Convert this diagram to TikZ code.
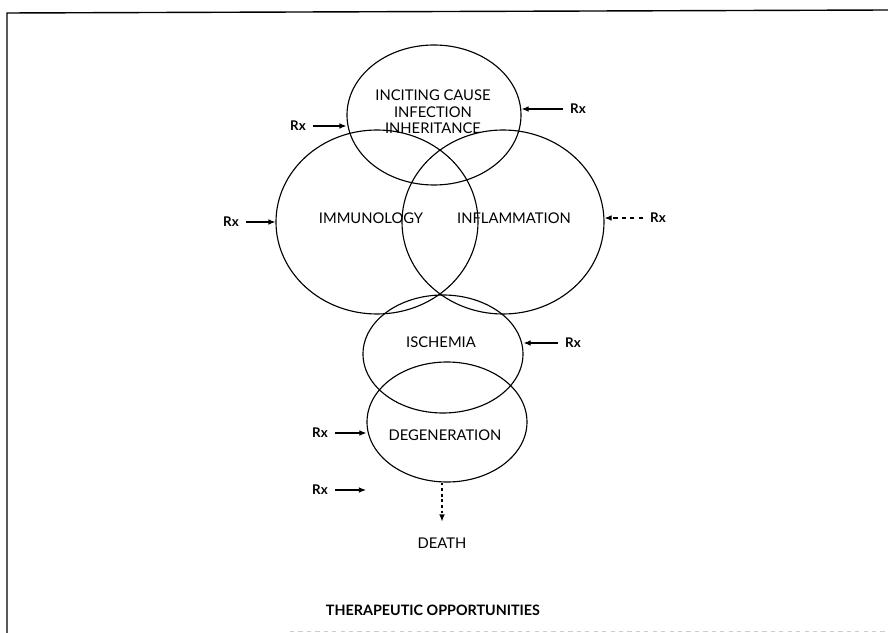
\documentclass[tikz,border=0pt]{standalone}
\usepackage{fontspec}
\setmainfont{Lato}
\usetikzlibrary{arrows.meta, positioning, shapes.geometric}

\begin{document}
\begin{tikzpicture}[
  circ/.style={ellipse, draw, line width=0.8pt, inner sep=0pt},
  lbl/.style={font=\fontsize{10.5}{11.8}\selectfont, align=center},
  rx/.style={font=\bfseries\fontsize{9.5}{11}\selectfont, inner sep=5pt},
  arr/.style={line width=0.8pt, -{Latex[length=5pt, width=4pt]}},
  frame/.style={line width=1pt}
]
  \useasboundingbox (-10.85, 2.875) rectangle (11.35, -12.95);

  % Frame
  \draw[frame] (-10.675, -12.95) -- (-10.675, 2.55) -- (11.35, 2.625);
  \draw[gray!40, dashed] (-3.6, -12.9) -- (11.35, -12.9);

  % Top ellipse
  \node[circ, minimum width=4.35cm, minimum height=3.5cm] (inc) at (0,0) {};
  \node[lbl] (inctxt) at (-0.025, 0.075) {INCITING CAUSE\\INFECTION\\INHERITANCE};

  % Two big circles
  \node[circ, minimum width=5.05cm, minimum height=4.6cm] (imm) at (-1.425, -2.675) {};
  \node[circ, minimum width=5.05cm, minimum height=4.6cm] (infl) at (1.725, -2.675) {};
  \node[lbl] (immtxt) at (-1.575, -2.575) {IMMUNOLOGY};
  \node[lbl] (infltxt) at (2.0, -2.575) {INFLAMMATION};

  % Lower ellipses
  \node[circ, minimum width=4.0cm, minimum height=2.95cm] (isch) at (0.225, -5.975) {};
  \node[circ, minimum width=4.0cm, minimum height=3.0cm] (deg) at (0.325, -7.675) {};
  \node[lbl] (ischtxt) at (0.175, -5.675) {ISCHEMIA};
  \node[lbl] (degtxt) at (0.275, -8.0) {DEGENERATION};

  % Death
  \node[lbl] (death) at (0.2, -10.7) {DEATH};
  \draw[arr, dash pattern=on 2pt off 2pt, shorten >=8pt] (death |- deg.south) -- (death.north);

  % Rx arrows
  \node[rx] (rxA) at (-3.4, -0.275) {Rx};
  \draw[arr] (rxA) -- (rxA -| inc.west);
  \node[rx] (rxB) at (3.6, 0.15) {Rx};
  \draw[arr] (rxB) -- (rxB -| inc.east);
  \node[rx] (rxC) at (-5.075, -2.675) {Rx};
  \draw[arr] (rxC) -- (rxC -| imm.west);
  \node[rx] (rxD) at (5.6, -2.575) {Rx};
  \draw[arr, dashed] (rxD) -- (rxD -| infl.east);
  \node[rx] (rxE) at (3.475, -5.7) {Rx};
  \draw[arr] (rxE) -- (rxE -| isch.east);
  \node[rx] (rxF) at (-2.85, -7.95) {Rx};
  \draw[arr] (rxF) -- (rxF -| deg.west);
  \node[rx] (rxG) at (-2.85, -9.375) {Rx};
  \coordinate (rxGend) at (-1.7, -9.375);
  \draw[arr] (rxG) -- (rxGend);

  % Caption
  \node[font=\bfseries\fontsize{10.2}{12}\selectfont] (cap) at (-0.025, -12.375) {THERAPEUTIC OPPORTUNITIES};
\end{tikzpicture}
\end{document}
